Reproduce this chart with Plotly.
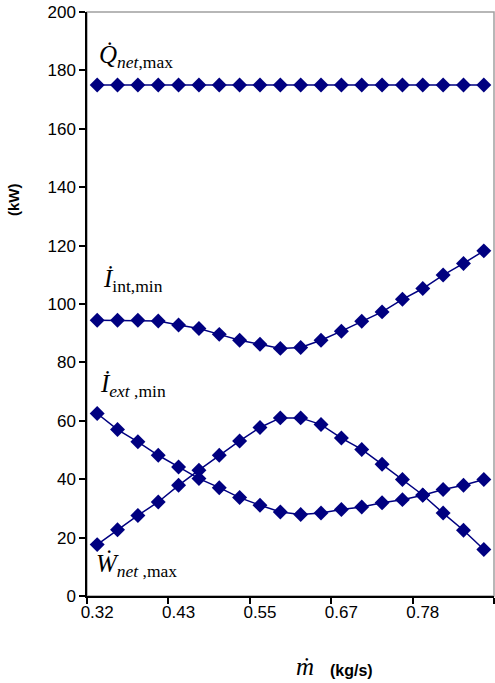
import plotly.graph_objects as go

# mass flow rate categories (kg/s)
m_dot = ["0.32", "0.35", "0.38", "0.41", "0.43", "0.46", "0.49", "0.52", "0.55", "0.58",
         "0.61", "0.64", "0.67", "0.69", "0.72", "0.75", "0.78", "0.81", "0.84", "0.87"]

# series values (kW)
Q_net_max = [175.0] * 20
I_int_min = [94.4, 94.4, 94.4, 94.2, 92.8, 91.6, 89.6, 87.6, 86.2, 84.8,
             85.1, 87.6, 90.7, 94.1, 97.3, 101.6, 105.3, 109.9, 113.9, 118.2]
I_ext_min = [62.5, 57.0, 52.8, 48.2, 44.2, 40.2, 37.1, 33.7, 31.1, 28.8,
             27.9, 28.4, 29.6, 30.5, 31.9, 33.0, 34.5, 36.5, 37.9, 39.9]
W_net_max = [17.6, 22.7, 27.6, 32.2, 37.9, 43.1, 48.2, 53.1, 57.7, 61.0,
             61.0, 58.7, 54.1, 50.2, 45.1, 39.9, 34.6, 28.4, 22.5, 15.9]

y_ticks = [0, 20, 40, 60, 80, 100, 120, 140, 160, 180, 200]

NAVY = "#000080"
SANS = "Arial, Liberation Sans, sans-serif"
SERIF = "Times New Roman, Liberation Serif, serif"

fig = go.Figure()
for name, vals in [("Q_net,max", Q_net_max), ("I_int,min", I_int_min),
                   ("I_ext,min", I_ext_min), ("W_net,max", W_net_max)]:
    fig.add_trace(go.Scatter(
        x=m_dot, y=vals, name=name, mode="lines+markers",
        line=dict(color=NAVY, width=1.5),
        marker=dict(symbol="diamond", size=11.5, color=NAVY, line=dict(width=0)),
        showlegend=False, cliponaxis=False,
    ))

W, H = 495, 683
L, R, T, B = 87, 1, 12, 87

def px(x):
    return (x - L) / (W - L - R)

def py(y):
    return (H - B - y) / (H - T - B)

annotations = [
    dict(text="<i>Q̇</i><sub><i>net</i>,max</sub>", x=px(97), y=py(74), xanchor="left", yanchor="bottom",
         font=dict(family=SERIF, size=25, color="black")),
    dict(text="<i>İ</i><sub>int,min</sub>", x=px(101), y=py(298), xanchor="left", yanchor="bottom",
         font=dict(family=SERIF, size=25, color="black")),
    dict(text="<i>İ</i><sub><i>ext</i> ,min</sub>", x=px(98), y=py(403), xanchor="left", yanchor="bottom",
         font=dict(family=SERIF, size=25, color="black")),
    dict(text="<i>Ẇ</i><sub><i>net</i> ,max</sub>", x=px(94), y=py(583), xanchor="left", yanchor="bottom",
         font=dict(family=SERIF, size=25, color="black")),
    dict(text="<b>(kW)</b>", x=px(14), y=py(200), xanchor="center", yanchor="middle", textangle=-90,
         font=dict(family=SANS, size=15, color="black")),
    dict(text="<b>(kg/s)</b>", x=px(351), y=py(670), xanchor="center", yanchor="middle",
         font=dict(family=SANS, size=16, color="black")),
    dict(text="<i>ṁ</i>", x=px(305), y=py(682), xanchor="center", yanchor="bottom",
         font=dict(family=SERIF, size=25, color="black")),
]
for a in annotations:
    a.update(xref="paper", yref="paper", showarrow=False)

fig.update_layout(
    width=W, height=H,
    margin=dict(l=L, r=R, t=T, b=B, pad=0, autoexpand=False),
    paper_bgcolor="white", plot_bgcolor="white",
    annotations=annotations,
    shapes=[dict(type="rect", xref="paper", yref="paper", x0=0, x1=1, y0=0, y1=1,
                 line=dict(color="#a0a0a0", width=1.5), layer="below")],
    xaxis=dict(
        type="category", tickmode="linear", tick0=0, dtick=4, tickson="boundaries",
        range=[-0.5, 19.5], showgrid=False, zeroline=False, automargin=False, tickangle=0,
        showline=True, linecolor="black", linewidth=1.5,
        ticks="outside", ticklen=6, tickcolor="black", tickwidth=1.5,
        tickfont=dict(family=SANS, size=17, color="black"),
    ),
    yaxis=dict(
        range=[0, 200], tickmode="array", tickvals=y_ticks, showgrid=False, zeroline=False,
        automargin=False,
        showline=True, linecolor="black", linewidth=1.5,
        ticks="outside", ticklen=6, tickcolor="black", tickwidth=1.5,
        tickfont=dict(family=SANS, size=17, color="black"),
    ),
)

fig.write_html("out.html", config={"displayModeBar": False},
               post_script="document.body.style.margin='0px';document.body.style.overflow='hidden';")
